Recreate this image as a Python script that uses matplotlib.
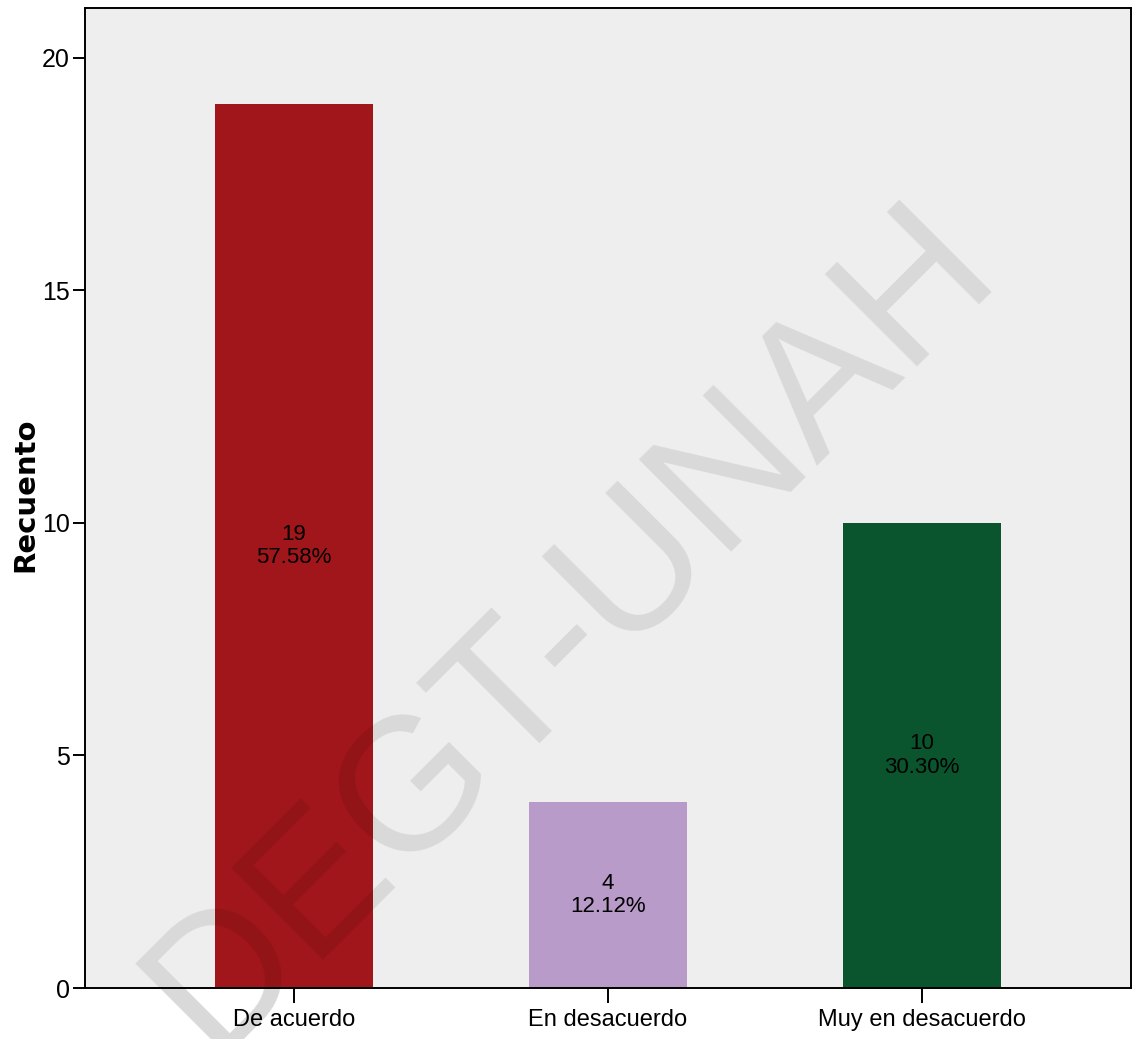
import matplotlib.pyplot as plt

categories = ["De acuerdo", "En desacuerdo", "Muy en desacuerdo"]
counts = [19, 4, 10]
percents = ["57.58%", "12.12%", "30.30%"]
bar_colors = ["#A1161A", "#B89BC8", "#0B552E"]

narrow = ["Liberation Sans Narrow", "DejaVu Sans Condensed", "Liberation Sans"]

fig = plt.figure(figsize=(11.4, 10.39), dpi=100)
ax = fig.add_axes([85 / 1140, 1 - 988 / 1039, 1046 / 1140, 980 / 1039])
ax.set_facecolor("#EEEEEE")

xpos = list(range(len(categories)))
ax.bar(xpos, counts, width=0.503, color=bar_colors, zorder=2)
for x, c, p in zip(xpos, counts, percents):
    ax.text(x, c / 2, f"{c}\n{p}", ha="center", va="center", fontsize=16,
            family=narrow, linespacing=1.15, zorder=3)

ax.set_xlim(-0.666, 2.666)
ax.set_ylim(0, 21.07)
ax.set_yticks([0, 5, 10, 15, 20])
ax.set_xticks(xpos)
ax.set_xticklabels(categories, family=narrow, fontsize=17)
for lab in ax.get_yticklabels():
    lab.set_family(narrow)
    lab.set_fontsize(18)
ax.tick_params(axis="y", length=9, width=1.4, pad=2)
ax.tick_params(axis="x", length=11, width=1.4, pad=4)
for s in ax.spines.values():
    s.set_linewidth(1.4)

fig.text(25 / 1140, 1 - 495 / 1039, "Recuento", rotation=90, ha="center",
         va="center", fontsize=21, fontweight="bold", family="DejaVu Sans")

# watermark: plain grey outside the axes, darkening overlay inside
wm_x, wm_y = 605 / 1140, 1 - 662 / 1039
fig.text(wm_x, wm_y, "DEGT-UNAH", rotation=45, rotation_mode="anchor",
         ha="center", va="baseline", fontsize=136, family="Liberation Sans",
         color="#D9D9D9", zorder=-1)
ax.text(wm_x, wm_y, "DEGT-UNAH", rotation=45, rotation_mode="anchor",
        ha="center", va="baseline", fontsize=136, family="Liberation Sans",
        color="black", alpha=0.09, transform=fig.transFigure, clip_on=True,
        zorder=4)

fig.savefig("out.png", dpi=100)
